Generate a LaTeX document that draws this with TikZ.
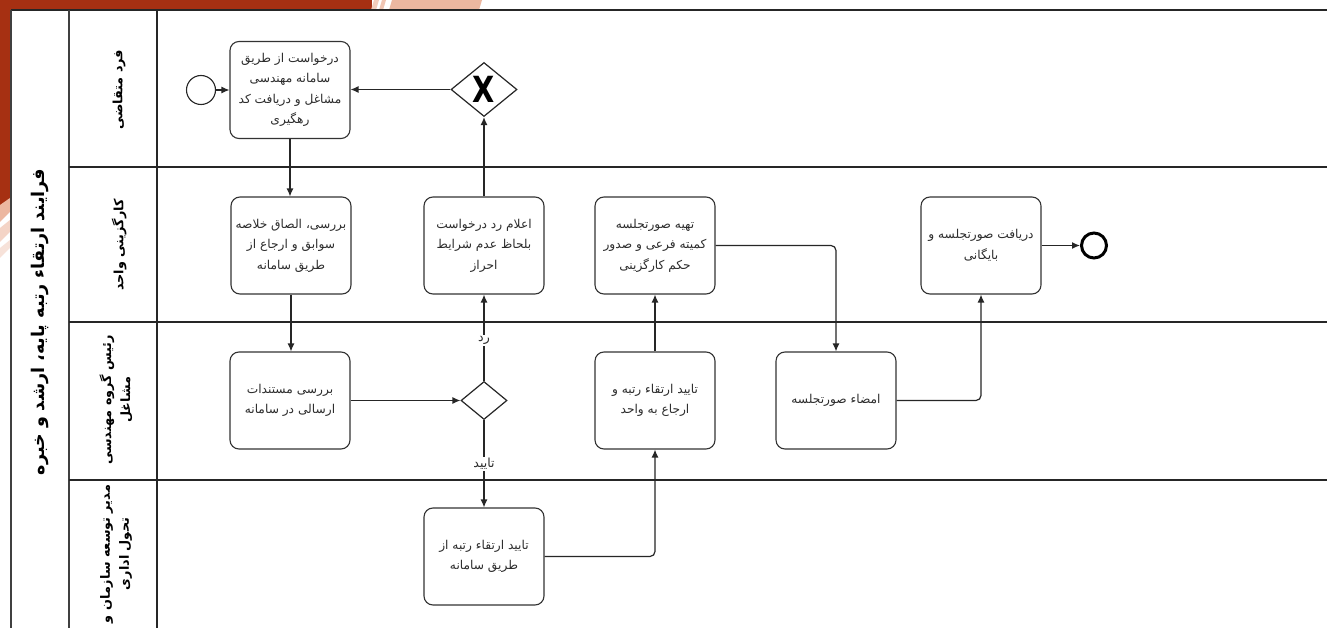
\documentclass[tikz,border=0pt]{standalone}
\usepackage{fontspec}
\setmainfont{DejaVu Sans}
\newfontfamily\arabicfont[Script=Arabic]{DejaVu Sans}
\TeXXeTstate=1
\usetikzlibrary{arrows.meta,shapes.geometric}
\newcommand\fa[1]{{\arabicfont\beginR #1\endR}}
\definecolor{deco}{RGB}{166,48,18}
\definecolor{decolight}{RGB}{236,183,160}
\definecolor{txt}{RGB}{45,45,45}
\tikzset{
  task/.style={draw=black!80, line width=1.1pt, rounded corners=9pt, minimum width=120pt, minimum height=97pt, align=center, font=\fontsize{12.2}{20.5}\selectfont, text=txt, fill=white, inner sep=1pt},
  flow/.style={draw=black!85, line width=1.2pt, -{Latex[length=8pt,width=7pt]}},
  elbow/.style={rounded corners=5pt},
  poolline/.style={draw=black!85, line width=1.8pt},
  thinframe/.style={draw=black!75, line width=1.2pt},
  gw/.style={diamond, draw=black!85, line width=1.2pt, inner sep=0pt, fill=white},
  startev/.style={circle, draw=black!85, line width=1.1pt, minimum size=29pt, inner sep=0pt, fill=white},
  endev/.style={circle, draw=black, line width=3pt, minimum size=25pt, inner sep=0pt, fill=white},
  lbl/.style={fill=white, inner sep=1.5pt, text=txt, font=\fontsize{12.5}{14}\selectfont},
  lanename/.style={rotate=90, align=center, font=\fontsize{12.8}{19}\selectfont\bfseries},
  pooltitle/.style={rotate=90, font=\fontsize{17.5}{20}\selectfont\bfseries}
}
\begin{document}
\begin{tikzpicture}[x=1pt,y=-1pt]
\clip (0,0) rectangle (1327,628);
\fill[white] (0,0) rectangle (1327,628);
% slide decoration
\fill[deco] (0,0) rectangle (372,10);
\fill[deco] (0,0) rectangle (10,205);
\fill[decolight] (392,0) -- (482,0) -- (479,10) -- (389,10) -- cycle;
\fill[decolight!70] (374,0) -- (379,0) -- (376,10) -- (371,10) -- cycle;
\fill[decolight!80] (382,0) -- (386,0) -- (383,10) -- (379,10) -- cycle;
\fill[decolight] (0,205) -- (10,198) -- (10,212) -- (0,222) -- cycle;
\fill[decolight!60] (0,228) -- (10,220) -- (10,232) -- (0,242) -- cycle;
\fill[decolight!40] (0,248) -- (10,240) -- (10,248) -- (0,258) -- cycle;
% pool and lanes
\draw[poolline] (11,10) -- (1340,10);
\draw[thinframe] (11,10) -- (11,640);
\draw[thinframe] (69,10) -- (69,640);
\draw[poolline] (157,10) -- (157,640);
\draw[poolline] (69,167) -- (1340,167);
\draw[poolline] (69,322) -- (1340,322);
\draw[poolline] (69,480) -- (1340,480);
% titles
\node[pooltitle] (pool) at (40,322) {\fa{فرایند ارتقاء رتبه پایه، ارشد و خبره}};
\node[lanename] (lane1) at (119,90) {\fa{فرد متقاضی}};
\node[lanename] (lane2) at (119,245) {\fa{کارگزینی واحد}};
\node[lanename] (lane3) at (116,400) {\fa{رئیس گروه مهندسی}\\\fa{مشاغل}};
\node[lanename] (lane4) at (116,554) {\fa{مدیر توسعه سازمان و}\\\fa{تحول اداری}};
% events and gateways
\node[startev] (start) at (201,90) {};
\node[endev] (end) at (1094,245.5) {};
\node[gw, minimum width=66pt, minimum height=54pt] (g1) at (484,89.5) {};
\node[font=\fontsize{36}{36}\selectfont\bfseries, xscale=0.8] (g1x) at (g1) {X};
\node[gw, minimum width=46pt, minimum height=38pt] (g2) at (484,400.5) {};
% tasks
\node[task] (t1) at (290,90) {\fa{درخواست از طریق}\\\fa{سامانه مهندسی}\\\fa{مشاغل و دریافت کد}\\\fa{رهگیری}};
\node[task] (t2) at (291,245.5) {\fa{بررسی، الصاق خلاصه}\\\fa{سوابق و ارجاع از}\\\fa{طریق سامانه}};
\node[task] (t3) at (484,245.5) {\fa{اعلام رد درخواست}\\\fa{بلحاظ عدم شرایط}\\\fa{احراز}};
\node[task] (t4) at (655,245.5) {\fa{تهیه صورتجلسه}\\\fa{کمیته فرعی و صدور}\\\fa{حکم کارگزینی}};
\node[task] (t5) at (981,245.5) {\fa{دریافت صورتجلسه و}\\\fa{بایگانی}};
\node[task] (t6) at (290,400.5) {\fa{بررسی مستندات}\\\fa{ارسالی در سامانه}};
\node[task] (t7) at (655,400.5) {\fa{تایید ارتقاء رتبه و}\\\fa{ارجاع به واحد}};
\node[task] (t8) at (836,400.5) {\fa{امضاء صورتجلسه}};
\node[task] (t9) at (484,556.5) {\fa{تایید ارتقاء رتبه از}\\\fa{طریق سامانه}};
% flows
\draw[flow] (start) -- (t1);
\draw[flow] (g1.west) -- (t1.east |- g1.west);
\draw[flow] (t1.south) -- (t1.south |- t2.north);
\draw[flow] (t3.north) -- (g1.south);
\draw[flow] (t2.south) -- (t2.south |- t6.north);
\draw[flow] (t6.east) -- (g2.west);
\draw[flow] (g2.north) -- node[lbl, pos=0.47] (lr) {\fa{رد}} (t3.south);
\draw[flow] (g2.south) -- node[lbl, pos=0.5] (ly) {\fa{تایید}} (t9.north);
\draw[flow, elbow] (t9.east) -| (t7.south);
\draw[flow] (t7.north) -- (t4.south);
\draw[flow, elbow] (t4.east) -| (t8.north);
\draw[flow, elbow] (t8.east) -| (t5.south);
\draw[flow] (t5.east) -- (end);
\end{tikzpicture}
\end{document}
